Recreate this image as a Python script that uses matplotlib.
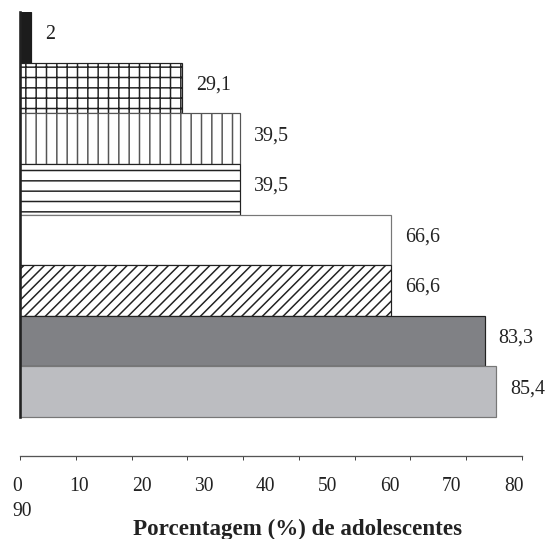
import matplotlib.pyplot as plt
import matplotlib.transforms as mtransforms
import numpy as np

# bars listed from top to bottom
values = [2, 29.1, 39.5, 39.5, 66.6, 66.6, 83.3, 85.4]
fills = ['#1c1c1c', 'white', 'white', 'white', 'white', 'white', '#808185', '#bcbdc1']
hatches = [None, '+', '|', '-', None, '//', None, None]
edges = ['#1c1c1c', '#222222', '#555555', '#222222', '#777777', '#222222', '#222222', '#777777']

x_ticks = np.arange(0, 91, 10)
x_tick_labels = ['0', '10', '20', '30', '40', '50', '60', '70', '80']
last_tick_label = '90'
xlabel = 'Porcentagem (%) de adolescentes'

DPI = 62
PT = 72 / DPI  # points per pixel

plt.rcParams['font.family'] = ['Liberation Serif', 'DejaVu Serif']
plt.rcParams['hatch.linewidth'] = 1.5 * PT

fig = plt.figure(figsize=(551 / DPI, 539 / DPI), dpi=DPI)
ax = fig.add_axes([20 / 551, 83 / 539, 502 / 551, 444 / 539])

ypos = np.arange(len(values))[::-1]
bars = ax.barh(ypos, values, height=1.0, color=fills, edgecolor=edges,
               linewidth=1.2 * PT)
for b, h in zip(bars, hatches):
    if h:
        b.set_hatch(h)

for y, v in zip(ypos, values):
    ax.annotate(f'{v:g}'.replace('.', ','), xy=(v, y), xytext=(14 * PT, 3 * PT),
                textcoords='offset points', ha='left', va='center',
                fontsize=20 * PT, color='#222222')

ax.set_xlim(0, 90)
ax.set_ylim(-1.27, 7.5)
ax.spines['top'].set_visible(False)
ax.spines['right'].set_visible(False)
ax.spines['left'].set_bounds(-0.5, 7.5)
ax.spines['left'].set_linewidth(2.6 * PT)
ax.spines['left'].set_color('#222222')
ax.spines['bottom'].set_linewidth(1.3 * PT)
ax.spines['bottom'].set_color('#555555')
ax.set_yticks([])
ax.set_xticks(x_ticks)
ax.tick_params(axis='x', direction='out', length=4 * PT, width=1 * PT,
               color='#444444', labelbottom=False)

# tick labels are spread out like justified text in the original
trans = mtransforms.blended_transform_factory(ax.transData, fig.transFigure)
label_x = np.linspace(-0.45, 88.5, len(x_tick_labels))
for x, lab in zip(label_x, x_tick_labels):
    ax.text(x, 48 / 539, lab, transform=trans, ha='center', va='baseline',
            fontsize=19.5 * PT, color='#222222')
ax.text(0.45, 23 / 539, last_tick_label, transform=trans, ha='center',
        va='baseline', fontsize=19.5 * PT, color='#222222')

fig.text(297.5 / 551, 4 / 539, xlabel, ha='center', va='baseline',
         fontsize=23 * PT, fontweight='bold', color='#222222')

fig.savefig('out.png', dpi=DPI)
